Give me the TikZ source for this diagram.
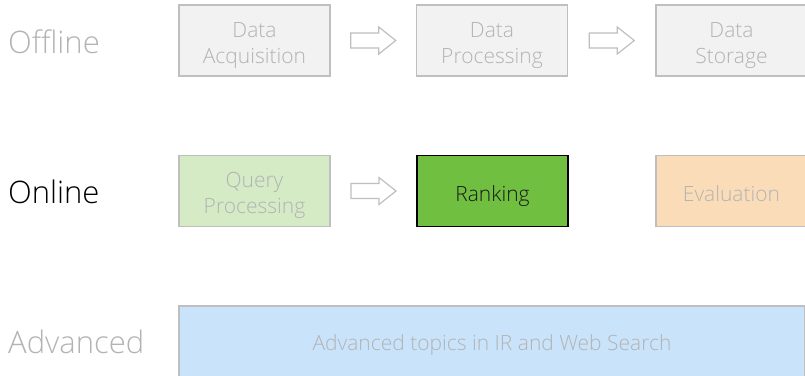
\documentclass[tikz,border=0pt]{standalone}
\usepackage{fontspec}
\setmainfont{Open Sans}[UprightFont={* Light}]
\usetikzlibrary{calc}

\definecolor{edgegray}{HTML}{BFBFBF}
\definecolor{fillgray}{HTML}{F2F2F2}
\definecolor{textgray}{HTML}{B3B3B3}
\definecolor{queryfill}{HTML}{D4EBC6}
\definecolor{rankfill}{HTML}{70BF41}
\definecolor{evalfill}{HTML}{FADDB8}
\definecolor{advfill}{HTML}{C9E3FA}

\tikzset{
  stage/.style={draw=edgegray, line width=1.5pt, fill=fillgray, text=textgray,
    minimum width=151pt, minimum height=71pt, inner sep=0pt, align=center,
    font=\fontsize{21}{26}\selectfont, text height=22pt, text depth=2pt},
  twoline/.style={text height=47pt, text depth=2pt},
  rowlabel/.style={anchor=base west, inner sep=0pt, text=textgray,
    font=\fontsize{31}{36}\selectfont},
  arrowline/.style={draw=edgegray, line width=1.2pt, line join=miter}
}

% hollow block arrow centred between two boxes
\newcommand\flowarrow[2]{%
  \draw[arrowline] ($(#1.east)!0.5!(#2.west)$) ++(-22.5,-7.5) -- ++(28,0)
    -- ++(0,-6) -- ++(17,13.5) -- ++(-17,13.5) -- ++(0,-6) -- ++(-28,0) -- cycle;}

\begin{document}
\begin{tikzpicture}[x=1pt,y=-1pt]
\useasboundingbox (0,0) rectangle (805,375);
\clip (0,0) rectangle (805,375);

% row labels
\node[rowlabel] (offline) at (8,53) {Offline};
\node[rowlabel, text=black] (online) at (8,203) {Online};
\node[rowlabel] (advanced) at (8,353) {Advanced};

% offline pipeline
\node[stage, twoline] (acq) at (254.5,40.5) {Data\\Acquisition};
\node[stage, twoline] (proc) at (492,40.5) {Data\\Processing};
\node[stage, twoline] (stor) at (731.5,40.5) {Data\\Storage};

% online pipeline
\node[stage, twoline, fill=queryfill] (query) at (254.5,191) {Query\\Processing};
\node[stage, fill=rankfill, draw=black, text=black!90] (rank) at (492.5,191) {Ranking};
\node[stage, fill=evalfill] (eval) at (731.5,191) {Evaluation};

% advanced topics
\node[stage, fill=advfill, minimum width=626pt, minimum height=72pt,
  text height=19pt, text depth=3pt] (adv) at (492,342)
  {Advanced topics in IR and Web Search};

\flowarrow{acq}{proc}
\flowarrow{proc}{stor}
\flowarrow{query}{rank}
\end{tikzpicture}
\end{document}
